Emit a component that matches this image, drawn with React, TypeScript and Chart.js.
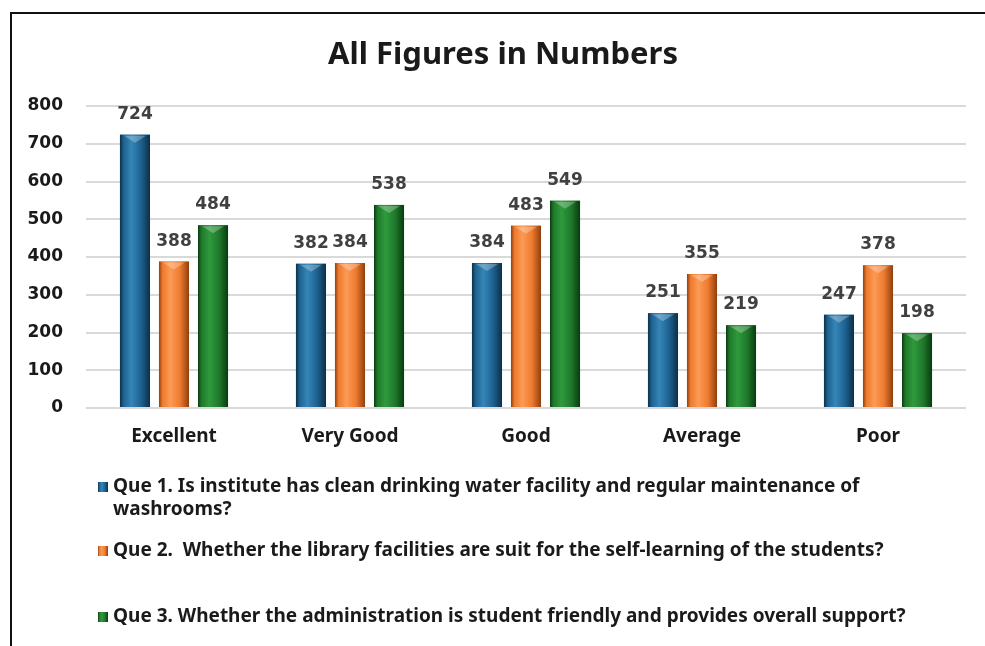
import React, { useEffect, useRef } from "react";
import { Chart, registerables } from "chart.js";

Chart.register(...registerables);

const chartTitle = "All Figures in Numbers";
const categories = ["Excellent", "Very Good", "Good", "Average", "Poor"];
const que1Values = [724, 382, 384, 251, 247];
const que2Values = [388, 384, 483, 355, 378];
const que3Values = [484, 538, 549, 219, 198];
const seriesNames = [
  "Que 1. Is institute has clean drinking water facility and regular maintenance of washrooms?",
  "Que 2.  Whether the library facilities are suit for the self-learning of the students?",
  "Que 3. Whether the administration is student friendly and provides overall support?",
];
const yMin = 0;
const yMax = 800;
const yStep = 100;

const palette = [
  { base: "#1d6290", light: "#3585b8", dark: "#0b2f48" },
  { base: "#ef7a2e", light: "#fb9a55", dark: "#8f3f10" },
  { base: "#1f7a2b", light: "#2f9a3c", dark: "#0a3a12" },
];
const legendRows = [487, 551, 617];

function barGradient(ctx: CanvasRenderingContext2D, left: number, right: number, c: any) {
  const g = ctx.createLinearGradient(left, 0, right, 0);
  g.addColorStop(0, c.dark);
  g.addColorStop(0.12, c.base);
  g.addColorStop(0.38, c.light);
  g.addColorStop(0.7, c.base);
  g.addColorStop(1, c.dark);
  return g;
}

function wrapText(ctx: CanvasRenderingContext2D, text: string, maxW: number) {
  const words = text.split(" ");
  const lines: string[] = [];
  let cur = "";
  for (const w of words) {
    const test = cur ? cur + " " + w : w;
    if (ctx.measureText(test).width > maxW && cur) {
      lines.push(cur);
      cur = w;
    } else cur = test;
  }
  if (cur) lines.push(cur);
  return lines;
}

const decorPlugin = {
  id: "decor",
  beforeDraw(chart: any) {
    const ctx = chart.ctx as CanvasRenderingContext2D;
    ctx.save();
    ctx.fillStyle = "#ffffff";
    ctx.fillRect(0, 0, chart.width, chart.height);
    ctx.strokeStyle = "#111111";
    ctx.lineWidth = 2;
    ctx.beginPath();
    ctx.moveTo(11, chart.height);
    ctx.lineTo(11, 13);
    ctx.lineTo(chart.width, 13);
    ctx.stroke();
    ctx.restore();
  },
  afterDatasetsDraw(chart: any) {
    const ctx = chart.ctx as CanvasRenderingContext2D;
    ctx.save();
    chart.data.datasets.forEach((ds: any, di: number) => {
      const meta = chart.getDatasetMeta(di);
      const c = palette[di];
      meta.data.forEach((el: any, i: number) => {
        const { x, y, base, width } = el.getProps(["x", "y", "base", "width"], true);
        const left = x - width / 2;
        const right = x + width / 2;
        ctx.fillStyle = barGradient(ctx, left, right, c);
        ctx.fillRect(left, y, width, base - y);
        ctx.fillStyle = "rgba(255,255,255,0.28)";
        ctx.beginPath();
        ctx.moveTo(left + 4, y + 1);
        ctx.lineTo(right - 4, y + 1);
        ctx.lineTo(x, y + 8);
        ctx.closePath();
        ctx.fill();
        ctx.fillStyle = "#404040";
        ctx.font = "bold 17px 'DejaVu Sans'";
        ctx.textAlign = "center";
        ctx.textBaseline = "alphabetic";
        ctx.fillText(String(ds.data[i]), x, y - 16);
      });
    });
    ctx.restore();
  },
  afterDraw(chart: any) {
    const ctx = chart.ctx as CanvasRenderingContext2D;
    ctx.save();
    ctx.fillStyle = "#1a1a1a";
    ctx.font = "bold 31px 'Noto Sans'";
    ctx.textAlign = "center";
    ctx.textBaseline = "middle";
    ctx.fillText(chartTitle, 503, 55);

    ctx.font = "bold 19px 'Noto Sans'";
    ctx.textAlign = "left";
    seriesNames.forEach((name, i) => {
      const y0 = legendRows[i];
      const c = palette[i];
      ctx.fillStyle = barGradient(ctx, 98, 108, c);
      ctx.fillRect(98, y0 - 5, 10, 10);
      ctx.fillStyle = "#1a1a1a";
      const lines = wrapText(ctx, name, 820);
      lines.forEach((ln, k) => {
        ctx.fillText(ln, 113, y0 + k * 23);
      });
    });
    ctx.restore();
  },
};

export default function App() {
  const ref = useRef<HTMLCanvasElement | null>(null);
  useEffect(() => {
    if (!ref.current) return;
    const chart = new Chart(ref.current, {
      type: "bar",
      data: {
        labels: categories,
        datasets: [que1Values, que2Values, que3Values].map((d, i) => ({
          label: seriesNames[i],
          data: d,
          backgroundColor: palette[i].base,
          borderWidth: 0,
          categoryPercentage: 0.665,
          barPercentage: 0.77,
        })),
      },
      options: {
        animation: false,
        responsive: false,
        maintainAspectRatio: false,
        layout: { padding: { top: 106, right: 19, bottom: 188, left: 0 } },
        plugins: {
          legend: { display: false },
          title: { display: false },
          tooltip: { enabled: false },
        },
        scales: {
          x: {
            grid: { display: false, drawTicks: false },
            border: { display: false },
            ticks: {
              color: "#1a1a1a",
              font: { family: "'Noto Sans'", size: 19, weight: "bold" },
              padding: 17,
            },
            afterFit: (axis: any) => {
              axis.height = 50;
            },
          },
          y: {
            min: yMin,
            max: yMax,
            ticks: {
              stepSize: yStep,
              color: "#1a1a1a",
              font: { family: "'DejaVu Sans'", size: 17, weight: "bold" },
              padding: 23,
            },
            grid: { color: "#d9d9d9", lineWidth: 2, drawTicks: false },
            border: { display: false },
            afterFit: (axis: any) => {
              axis.width = 86;
            },
          },
        },
      },
      plugins: [decorPlugin],
    });
    return () => chart.destroy();
  }, []);
  return (
    <div style={{ position: "fixed", left: 0, top: 0, width: 985, height: 646, background: "#fff" }}>
      <canvas ref={ref} width={985} height={646} style={{ display: "block", width: 985, height: 646 }} />
    </div>
  );
}
